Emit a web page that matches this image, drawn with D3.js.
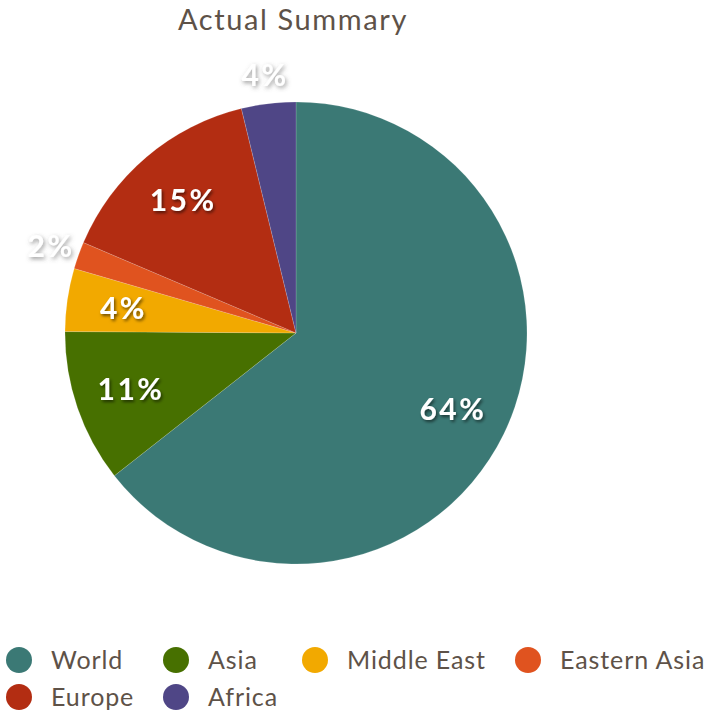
<!DOCTYPE html>
<html>
<head>
<meta charset="utf-8">
<script src="https://cdn.jsdelivr.net/npm/d3@7"></script>
<style>
  body { margin: 0; background: #fff; }
  svg { display: block; font-family: Lato, "Noto Sans", sans-serif; }
</style>
</head>
<body>
<div id="chart"></div>
<script>
// data
const categories = ['World', 'Asia', 'Middle East', 'Eastern Asia', 'Europe', 'Africa'];
const values = [64.4, 10.7, 4.4, 1.9, 14.8, 3.8];
const colors = ['#3b7975', '#477000', '#f2a900', '#e0531f', '#b32d12', '#4f4686'];
const title = 'Actual Summary';

const width = 709, height = 715;
const cx = 296, cy = 333, radius = 231;
const textColor = '#5e5248';

const svg = d3.select('#chart').append('svg')
    .attr('width', width)
    .attr('height', height);

// shadows for the labels
const defs = svg.append('defs');
defs.append('filter').attr('id', 'shadowIn')
    .attr('x', '-30%').attr('y', '-30%').attr('width', '160%').attr('height', '160%')
    .append('feDropShadow')
    .attr('dx', 1.5).attr('dy', 2).attr('stdDeviation', 1.8)
    .attr('flood-color', '#000').attr('flood-opacity', 0.55);
defs.append('filter').attr('id', 'shadowOut')
    .attr('x', '-30%').attr('y', '-30%').attr('width', '160%').attr('height', '160%')
    .append('feDropShadow')
    .attr('dx', 1.5).attr('dy', 2).attr('stdDeviation', 2)
    .attr('flood-color', '#555').attr('flood-opacity', 0.6);

// title
svg.append('text')
    .attr('x', 293)
    .attr('y', 30)
    .attr('text-anchor', 'middle')
    .attr('fill', textColor)
    .style('font-size', '29px')
    .style('letter-spacing', '1.6px')
    .text(title);

const color = d3.scaleOrdinal().domain(categories).range(colors);
const total = d3.sum(values);
const rows = categories.map((c, i) => ({ name: c, value: values[i] }));

const pie = d3.pie().sort(null).value(d => d.value);
const arcs = pie(rows);
const arc = d3.arc().innerRadius(0).outerRadius(radius);
const inLabel = d3.arc().innerRadius(radius * 0.755).outerRadius(radius * 0.755);
const outLabel = d3.arc().innerRadius(radius + 29).outerRadius(radius + 29);

const g = svg.append('g').attr('transform', `translate(${cx},${cy})`);

g.selectAll('path')
    .data(arcs)
    .enter().append('path')
    .attr('d', arc)
    .attr('fill', d => color(d.data.name))
    .attr('stroke', 'rgba(255,255,255,0.25)')
    .attr('stroke-width', 0.6);

// percentage labels
g.selectAll('text.pct')
    .data(arcs)
    .enter().append('text')
    .attr('class', 'pct')
    .attr('transform', d => {
        const small = d.data.value / total < 0.04;
        const p = (small ? outLabel : inLabel).centroid(d);
        return `translate(${p[0]},${p[1]})`;
    })
    .attr('dy', '0.36em')
    .attr('text-anchor', 'middle')
    .attr('fill', '#fff')
    .attr('filter', d => d.data.value / total < 0.04 ? 'url(#shadowOut)' : 'url(#shadowIn)')
    .style('font-size', '30px')
    .style('font-weight', 'bold')
    .style('letter-spacing', '2.5px')
    .text(d => Math.round(d.data.value / total * 100) + '%');

// legend
const legendPos = [[19, 660], [176, 660], [315, 660], [528, 660], [19, 697], [176, 697]];
const legend = svg.append('g')
    .selectAll('g')
    .data(categories)
    .enter().append('g')
    .attr('transform', (d, i) => `translate(${legendPos[i][0]},${legendPos[i][1]})`);

legend.append('circle')
    .attr('r', 13)
    .attr('fill', d => color(d));

legend.append('text')
    .attr('x', 32)
    .attr('dy', '0.36em')
    .attr('fill', textColor)
    .style('font-size', '25px')
    .style('letter-spacing', '0.9px')
    .text(d => d);
</script>
</body>
</html>
